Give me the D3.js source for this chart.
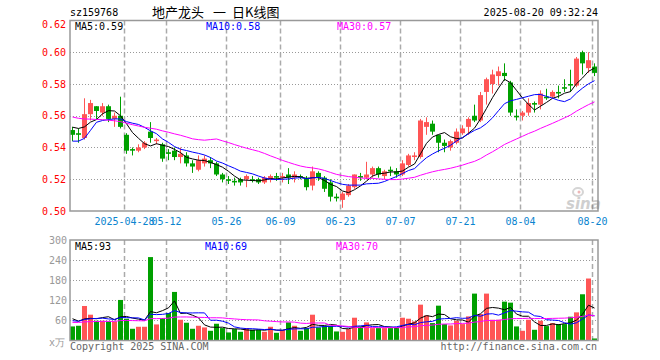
<!DOCTYPE html>
<html>
<head>
<meta charset="utf-8">
<script src="https://cdn.jsdelivr.net/npm/d3@7"></script>
<style>
  body { margin: 0; background: #fff; }
  text { font-family: "DejaVu Sans Mono", monospace; font-size: 10px; }
</style>
</head>
<body>
<svg id="chart" width="660" height="360"></svg>
<script>
'use strict';

// trading days shown in the chart
const dates = [
    "2025-04-15","2025-04-16","2025-04-17","2025-04-18","2025-04-21","2025-04-22","2025-04-23","2025-04-24","2025-04-25","2025-04-28",
    "2025-04-29","2025-04-30","2025-05-06","2025-05-07","2025-05-08","2025-05-09","2025-05-12","2025-05-13","2025-05-14","2025-05-15",
    "2025-05-16","2025-05-19","2025-05-20","2025-05-21","2025-05-22","2025-05-23","2025-05-26","2025-05-27","2025-05-28","2025-05-29",
    "2025-05-30","2025-06-03","2025-06-04","2025-06-05","2025-06-06","2025-06-09","2025-06-10","2025-06-11","2025-06-12","2025-06-13",
    "2025-06-16","2025-06-17","2025-06-18","2025-06-19","2025-06-20","2025-06-23","2025-06-24","2025-06-25","2025-06-26","2025-06-27",
    "2025-06-30","2025-07-01","2025-07-02","2025-07-03","2025-07-04","2025-07-07","2025-07-08","2025-07-09","2025-07-10","2025-07-11",
    "2025-07-14","2025-07-15","2025-07-16","2025-07-17","2025-07-18","2025-07-21","2025-07-22","2025-07-23","2025-07-24","2025-07-25",
    "2025-07-28","2025-07-29","2025-07-30","2025-07-31","2025-08-01","2025-08-04","2025-08-05","2025-08-06","2025-08-07","2025-08-08",
    "2025-08-11","2025-08-12","2025-08-13","2025-08-14","2025-08-15","2025-08-18","2025-08-19","2025-08-20"
]

const open = [
    .551,.549,.546,.561,.566,.562,.566,.558,.560,.548, .539,.538,.540,.550,.544,.542,.537,.538,.534,.535,
    .530,.526,.530,.532,.530,.523,.520,.519,.520,.520, .520,.520,.518,.520,.522,.521,.523,.521,.522,.521,
    .516,.524,.521,.518,.509,.507,.510,.515,.522,.521, .523,.527,.522,.526,.525,.523,.529,.534,.534,.553,
    .555,.548,.543,.540,.543,.549,.553,.560,.557,.575, .580,.585,.587,.581,.560,.560,.562,.568,.567,.572,
    .572,.575,.578,.580,.579,.600,.590,.591
]
const high = [
    .553,.552,.571,.570,.566,.568,.567,.562,.572,.549, .540,.542,.544,.556,.546,.543,.539,.540,.540,.537,
    .532,.535,.535,.534,.531,.524,.522,.521,.521,.523, .522,.521,.522,.523,.524,.524,.527,.525,.523,.522,
    .528,.525,.522,.520,.511,.512,.517,.523,.524,.531, .528,.528,.526,.528,.527,.532,.536,.537,.558,.559,
    .557,.548,.545,.545,.552,.554,.559,.567,.575,.584, .589,.591,.593,.582,.564,.563,.571,.569,.576,.577,
    .576,.579,.583,.589,.597,.601,.600,.593
]
const low = [
    .544,.543,.545,.557,.558,.560,.556,.553,.552,.536, .535,.537,.539,.543,.542,.531,.532,.532,.530,.528,
    .524,.525,.528,.527,.522,.518,.517,.516,.516,.515, .518,.517,.517,.518,.519,.518,.517,.518,.520,.513,
    .513,.519,.512,.506,.506,.502,.509,.514,.519,.520, .521,.521,.520,.522,.521,.522,.528,.532,.533,.548,
    .548,.537,.537,.538,.542,.548,.548,.556,.556,.567, .574,.579,.582,.560,.557,.557,.560,.562,.564,.570,
    .571,.571,.575,.575,.578,.586,.587,.585
]
const close = [
    .548,.548,.561,.568,.563,.566,.558,.560,.553,.538, .538,.540,.543,.546,.545,.533,.536,.534,.536,.530,
    .528,.532,.533,.530,.523,.520,.519,.518,.518,.522, .519,.518,.521,.522,.521,.522,.521,.523,.521,.515,
    .525,.521,.514,.509,.508,.511,.516,.523,.521,.523, .527,.523,.525,.525,.523,.530,.535,.535,.557,.556,
    .550,.543,.541,.544,.550,.552,.558,.557,.573,.583, .586,.588,.585,.562,.559,.562,.568,.567,.574,.571,
    .575,.574,.577,.579,.596,.593,.595,.587
]
// volume, 万手
const volume = [
    42,44,103,77,59,59,57,57,121,65, 35,41,41,249,48,67,82,145,62,53,
    35,44,39,29,50,37,24,34,26,37, 32,32,26,41,23,31,54,44,29,37,
    77,39,43,44,27,26,34,68,42,54, 37,37,37,37,37,68,65,57,107,75,
    52,104,49,45,59,49,72,140,79,140, 62,62,116,113,42,29,62,32,59,43,
    52,49,49,71,84,138,185,6
]

// the 29 sessions before the window, only needed so the averages start where the chart does
const priorClose = [
    .572,.574,.571,.569,.570,.568,.571,.569,.568,.566, .565,.567,.564,.563,.565,.562,.564,.563,.562,.563,
    .548,.543,.518,.512,.555,.552,.556,.553,.555
]
const priorVolume = [
    48,55,52,50,47,53,58,50,49,52, 55,51,48,50,54,52,49,53,51,53,
    60,50,55,50,50,80,70,68,65
]

const priceTicks = [0.50, 0.52, 0.54, 0.56, 0.58, 0.60, 0.62]
const volumeTicks = [60, 120, 180, 240, 300]
const tickDates = ["2025-04-28","2025-05-12","2025-05-26","2025-06-09","2025-06-23","2025-07-07","2025-07-21","2025-08-04","2025-08-20"]
const tickLabels = ["2025-04-28","05-12","05-26","06-09","06-23","07-07","07-21","08-04","08-20"]

const maPeriods = [5, 10, 30]
const maColors = ["#000000", "#0000ff", "#ff00ff"]
const priceMaLabels = ["0.59", "0.58", "0.57"]
const volumeMaLabels = ["93", "69", "70"]

const titleParts = ["地产龙头", "一", "日K线图"]

const RED = "#ff5555"
const GREEN = "#00a000"

let klineChart = (function() {
    let svg = d3.select("#chart")
    let left = 70, right = 598

    let x = d3.scaleBand().domain(dates).range([69, 597])
    let yPrice = d3.scaleLinear().domain([0.50, 0.62]).range([211, 20.5])
    let yVol = d3.scaleLinear().domain([0, 300]).range([340.5, 240])

    function movingAverage(prior, values, n) {
        let all = prior.concat(values)
        let offset = prior.length
        return values.map(function(v, i) {
            let slice = all.slice(offset + i - n + 1, offset + i + 1)
            return d3.mean(slice)
        })
    }

    function cx(d) { return x(d) + 3.5 }

    function isUp(i) { return close[i] >= open[i] }

    function drawGrid(top, bottom, yScale, ticks) {
        let g = svg.append("g")
        g.selectAll("line.h")
            .data(ticks)
            .enter().append("line")
            .attr("x1", left).attr("x2", right)
            .attr("y1", function(d) { return Math.round(yScale(d)) + 0.5 })
            .attr("y2", function(d) { return Math.round(yScale(d)) + 0.5 })
            .attr("stroke", "#999")
            .attr("stroke-dasharray", "1,2")
        g.selectAll("line.v")
            .data(tickDates)
            .enter().append("line")
            .attr("x1", function(d) { return x(d) + 1.5 })
            .attr("x2", function(d) { return x(d) + 1.5 })
            .attr("y1", top).attr("y2", bottom)
            .attr("stroke", "#aaa")
            .attr("stroke-width", 1.5)
            .attr("stroke-dasharray", "5,3")
    }

    function drawFrame(top, bottom) {
        svg.append("rect")
            .attr("x", left).attr("y", top)
            .attr("width", right - left).attr("height", bottom - top)
            .attr("fill", "none")
            .attr("stroke", "#999")
            .attr("stroke-width", 1.5)
    }

    function drawCandles() {
        let g = svg.append("g")
        let idx = d3.range(dates.length)
        g.selectAll("line")
            .data(idx)
            .enter().append("line")
            .attr("x1", function(i) { return cx(dates[i]) })
            .attr("x2", function(i) { return cx(dates[i]) })
            .attr("y1", function(i) { return yPrice(high[i]) })
            .attr("y2", function(i) { return yPrice(low[i]) })
            .attr("stroke", function(i) { return isUp(i) ? RED : GREEN })
        g.selectAll("rect")
            .data(idx)
            .enter().append("rect")
            .attr("x", function(i) { return x(dates[i]) + 1 })
            .attr("width", 5)
            .attr("y", function(i) { return yPrice(Math.max(open[i], close[i])) })
            .attr("height", function(i) {
                return Math.max(1, yPrice(Math.min(open[i], close[i])) - yPrice(Math.max(open[i], close[i])))
            })
            .attr("fill", function(i) { return isUp(i) ? RED : GREEN })
    }

    function drawVolume() {
        svg.append("g")
            .selectAll("rect")
            .data(d3.range(dates.length))
            .enter().append("rect")
            .attr("x", function(i) { return x(dates[i]) + 1 })
            .attr("width", 5)
            .attr("y", function(i) { return yVol(volume[i]) })
            .attr("height", function(i) { return yVol(0) - yVol(volume[i]) })
            .attr("fill", function(i) { return isUp(i) ? RED : GREEN })
    }

    function drawAverages(prior, values, yScale) {
        maPeriods.forEach(function(n, j) {
            let ma = movingAverage(prior, values, n)
            let line = d3.line()
                .x(function(d, i) { return cx(dates[i]) })
                .y(function(d) { return yScale(d) })
            svg.append("path")
                .attr("d", line(ma))
                .attr("fill", "none")
                .attr("stroke", maColors[j])
                .attr("stroke-width", 1)
        })
    }

    function drawLabels() {
        // header
        svg.append("text").attr("x", 70).attr("y", 16).text("sz159768")
        let titleX = [152, 213, 232]
        titleParts.forEach(function(t, i) {
            svg.append("text").attr("x", titleX[i]).attr("y", 17)
                .style("font-family", "'Noto Sans CJK SC', sans-serif")
                .style("font-size", "13px")
                .text(t)
        })
        svg.append("text").attr("x", 598).attr("y", 16).attr("text-anchor", "end")
            .text("2025-08-20 09:32:24")

        // price axis
        svg.append("g").selectAll("text")
            .data(priceTicks)
            .enter().append("text")
            .attr("x", 66)
            .attr("y", function(d) { return d === 0.62 ? yPrice(d) + 7 : yPrice(d) + 3.5 })
            .attr("text-anchor", "end")
            .attr("fill", "#ff0000")
            .text(function(d) { return d.toFixed(2) })

        // date axis
        svg.append("g").selectAll("text")
            .data(tickDates)
            .enter().append("text")
            .attr("x", function(d) { return x(d) + 1.5 })
            .attr("y", 225)
            .attr("text-anchor", "middle")
            .attr("fill", "#0a84cf")
            .text(function(d, i) { return tickLabels[i] })

        // volume axis
        svg.append("g").selectAll("text")
            .data(volumeTicks)
            .enter().append("text")
            .attr("x", 67)
            .attr("y", function(d) { return yVol(d) + 3.5 })
            .attr("text-anchor", "end")
            .attr("fill", "#999")
            .text(function(d) { return d })
        svg.append("text").attr("x", 49).attr("y", 346).attr("fill", "#999").text("x万")

        // MA legends
        let labelX = [75, 206, 337]
        maPeriods.forEach(function(n, j) {
            svg.append("text").attr("x", labelX[j]).attr("y", 30)
                .attr("fill", maColors[j])
                .text("MA" + n + ":" + priceMaLabels[j])
            svg.append("text").attr("x", labelX[j] - (j ? 1 : 0)).attr("y", 250)
                .attr("fill", maColors[j])
                .text("MA" + n + ":" + volumeMaLabels[j])
        })

        // footer
        svg.append("text").attr("x", 70).attr("y", 350).attr("fill", "#666").text("Copyright 2025 SINA.COM")
        svg.append("text").attr("x", 597).attr("y", 350).attr("text-anchor", "end").attr("fill", "#666")
            .text("http://finance.sina.com.cn")

        // watermark
        let wm = svg.append("g").attr("opacity", 0.35)
        wm.append("ellipse").attr("cx", 578).attr("cy", 192).attr("rx", 5).attr("ry", 4)
            .attr("fill", "none").attr("stroke", "#888").attr("stroke-width", 2)
        wm.append("circle").attr("cx", 579).attr("cy", 192).attr("r", 1.5).attr("fill", "#c33")
        wm.append("text").attr("x", 566).attr("y", 209)
            .style("font-family", "'DejaVu Sans', sans-serif")
            .style("font-size", "15px").style("font-weight", "bold").style("font-style", "italic")
            .attr("fill", "#777")
            .text("sina")
    }

    function render() {
        drawGrid(20.5, 211, yPrice, priceTicks.slice(1, -1))
        drawGrid(240, 340.5, yVol, volumeTicks.slice(0, -1))
        drawCandles()
        drawAverages(priorClose, close, yPrice)
        drawVolume()
        drawAverages(priorVolume, volume, yVol)
        drawFrame(20.5, 211)
        drawFrame(240, 340.5)
        drawLabels()
    }

    return { render }
}())

klineChart.render()
</script>
</body>
</html>
